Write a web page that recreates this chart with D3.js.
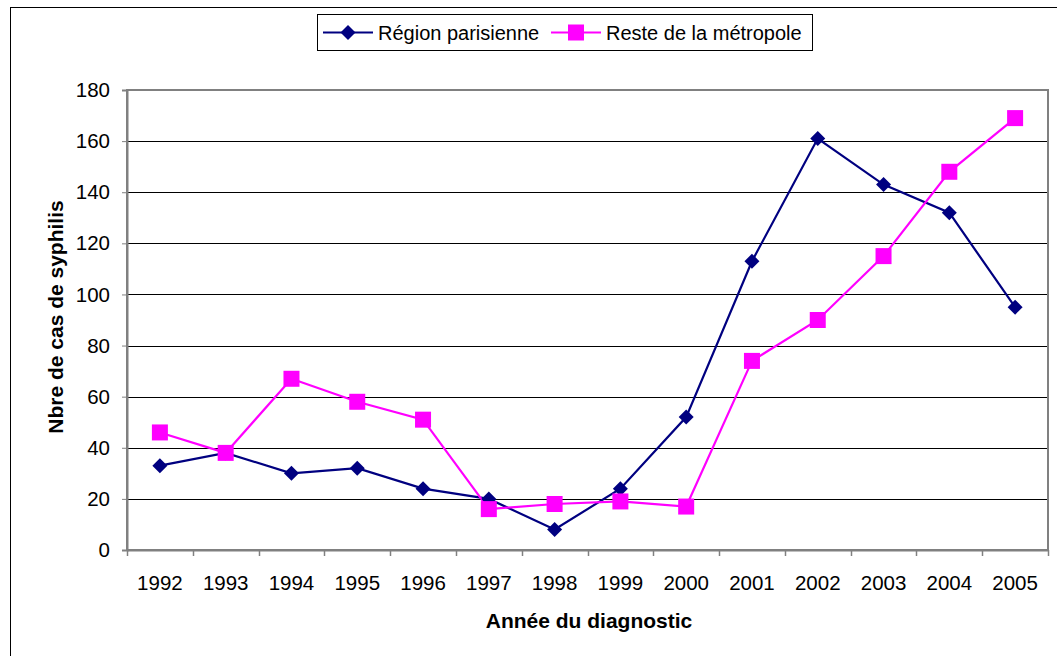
<!DOCTYPE html>
<html><head><meta charset="utf-8">
<script src="https://cdn.jsdelivr.net/npm/d3@7"></script>
<style>body{margin:0;background:#fff}svg{display:block;font-family:"Liberation Sans",Arial,sans-serif}</style>
</head><body><svg id="c" width="1057" height="656"></svg>
<script>
const years = ["1992","1993","1994","1995","1996","1997","1998","1999","2000","2001","2002","2003","2004","2005"];
const regionParisienne = [33,38,30,32,24,20,8,24,52,113,161,143,132,95];
const resteMetropole = [46,38,67,58,51,16,18,19,17,74,90,115,148,169];
const yTicks = [0,20,40,60,80,100,120,140,160,180];
const seriesNames = ["Région parisienne","Reste de la métropole"];
const seriesColors = ["#000080","#FF00FF"];

const svg = d3.select("#c");
svg.append("rect").attr("x",10.5).attr("y",7.5).attr("width",1100).attr("height",700).attr("fill","none").attr("stroke","#000").attr("stroke-width",1);

const L=127,R=1048,T=90,B=550;
const x = d3.scaleBand().domain(years).range([L,R]);
const y = d3.scaleLinear().domain([0,180]).range([B,T]);

// gridlines
svg.append("g").selectAll("line").data(yTicks.filter(d=>d>0&&d<180)).join("line")
 .attr("x1",L).attr("x2",R).attr("y1",d=>Math.round(y(d))+0.5).attr("y2",d=>Math.round(y(d))+0.5)
 .attr("stroke","#000").attr("stroke-width",1);
// plot border
svg.append("rect").attr("x",L).attr("y",T).attr("width",R-L).attr("height",B-T).attr("fill","none").attr("stroke","#808080").attr("stroke-width",2);

// y axis
const ya = svg.append("g").attr("transform",`translate(${L},0)`).call(d3.axisLeft(y).tickValues(yTicks).tickSize(5).tickPadding(12));
ya.select(".domain").attr("stroke","#808080").attr("stroke-width",2);
ya.selectAll(".tick line").attr("stroke","#808080");
ya.selectAll("text").attr("font-size",20.5).attr("fill","#000").attr("font-family","Liberation Sans, Arial, sans-serif");

// x axis
const xa = svg.append("g").attr("transform",`translate(0,${B})`).call(d3.axisBottom(x).tickSize(0).tickPadding(25));
xa.select(".domain").attr("stroke","#808080").attr("stroke-width",2);
xa.selectAll("text").attr("font-size",20.5).attr("fill","#000").attr("font-family","Liberation Sans, Arial, sans-serif");
// category boundary ticks
const bounds = years.map(d=>x(d)).concat([R]);
svg.append("g").selectAll("line").data(bounds).join("line")
 .attr("x1",d=>Math.round(d)+0.5).attr("x2",d=>Math.round(d)+0.5).attr("y1",B).attr("y2",B+6)
 .attr("stroke","#808080").attr("stroke-width",1.5);

const cx = d=>x(d)+x.bandwidth()/2;
const line = d3.line().x((d,i)=>cx(years[i])).y(d=>y(d));
const data=[regionParisienne,resteMetropole];
data.forEach((vals,k)=>{
  svg.append("path").datum(vals).attr("d",line).attr("fill","none").attr("stroke",seriesColors[k]).attr("stroke-width",2.2);
});
function drawDiamond(g,cxv,cyv,s){
  g.append("path").attr("d",`M${cxv},${cyv-s}L${cxv+s},${cyv}L${cxv},${cyv+s}L${cxv-s},${cyv}Z`).attr("fill",seriesColors[0]);
}
regionParisienne.forEach((v,i)=>drawDiamond(svg,cx(years[i]),y(v),7.5));
resteMetropole.forEach((v,i)=>svg.append("rect").attr("x",cx(years[i])-8).attr("y",y(v)-8).attr("width",16).attr("height",16).attr("fill",seriesColors[1]));

// axis titles
svg.append("text").attr("x",589).attr("y",628).attr("text-anchor","middle").attr("font-size",21).attr("font-weight","bold").text("Année du diagnostic");
svg.append("text").attr("transform",`translate(63,317) rotate(-90)`).attr("text-anchor","middle").attr("font-size",21).attr("font-weight","bold").text("Nbre de cas de syphilis");

// legend
const lg = svg.append("g");
lg.append("rect").attr("x",317.5).attr("y",14.5).attr("width",495).attr("height",36).attr("fill","#fff").attr("stroke","#000").attr("stroke-width",1);
const lx=[323,551];
seriesNames.forEach((n,k)=>{
  const yy=32.5;
  lg.append("line").attr("x1",lx[k]).attr("x2",lx[k]+50).attr("y1",yy).attr("y2",yy).attr("stroke",seriesColors[k]).attr("stroke-width",2.2);
  if(k===0) drawDiamond(lg,lx[k]+25,yy,7.5);
  else lg.append("rect").attr("x",lx[k]+25-8).attr("y",yy-8).attr("width",16).attr("height",16).attr("fill",seriesColors[1]);
  lg.append("text").attr("x",lx[k]+55).attr("y",yy+7).attr("font-size",20).text(n);
});
</script></body></html>
